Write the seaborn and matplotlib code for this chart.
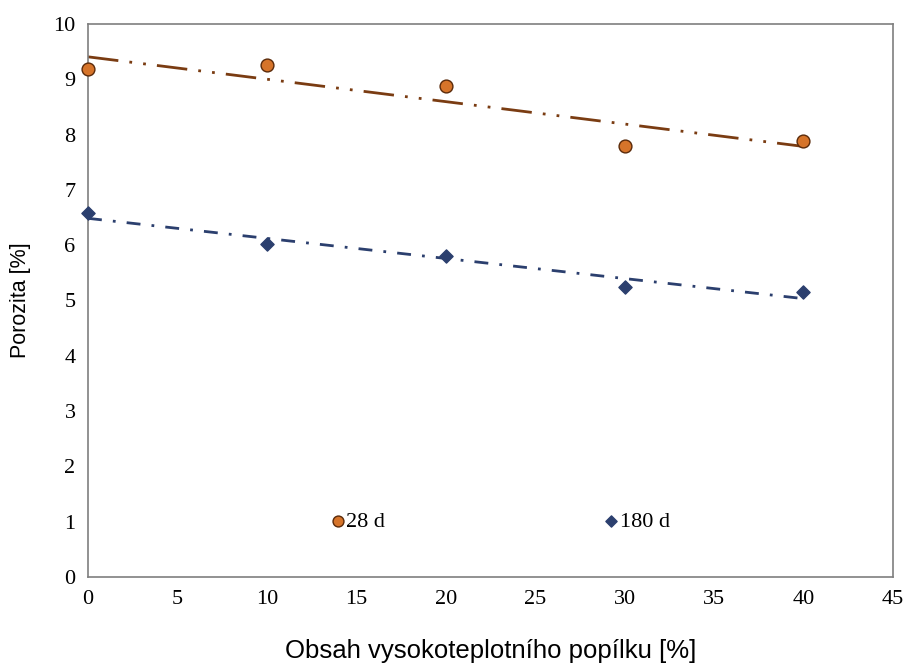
import numpy as np
import pandas as pd
import seaborn as sns
import matplotlib.pyplot as plt

fly_ash = [0, 10, 20, 30, 40]
por_28d = [9.18, 9.25, 8.87, 7.80, 7.88]
por_180d = [6.58, 6.02, 5.80, 5.25, 5.15]
series_names = ["28 d", "180 d"]

df = pd.DataFrame({
    "ash": fly_ash * 2,
    "por": por_28d + por_180d,
    "age": [series_names[0]] * len(fly_ash) + [series_names[1]] * len(fly_ash),
})

sns.set_theme(style="white")
plt.rcParams["font.family"] = ["Liberation Serif", "DejaVu Serif"]
plt.rcParams["text.color"] = "black"

fig = plt.figure(figsize=(9.11, 6.66), dpi=100)
ax = fig.add_axes([0.0966, 0.1336, 0.8834, 0.8304])

# trend lines (linear fit)
line_styles = {
    "28 d": dict(color="#7a3c12", ls=(0, (11, 4, 1, 4, 1, 4))),
    "180 d": dict(color="#2b3f6e", ls=(0, (5, 4, 1, 4))),
}
for name in series_names:
    sub = df[df["age"] == name]
    sns.regplot(data=sub, x="ash", y="por", ax=ax, scatter=False, ci=None,
                line_kws=dict(lw=2.0, linestyle=line_styles[name]["ls"],
                              color=line_styles[name]["color"]))

marker_cfg = {
    "28 d": dict(marker="o", color="#d6742a", edgecolor="#5a2a0a", s=85),
    "180 d": dict(marker="D", color="#2b3f6e", edgecolor="#2b3f6e", s=45),
}
for name in series_names:
    sub = df[df["age"] == name]
    sns.scatterplot(data=sub, x="ash", y="por", ax=ax, label=name,
                    linewidth=1.0, zorder=5, clip_on=False, **marker_cfg[name])

ax.set_xlim(0, 45)
ax.set_ylim(0, 10)
ax.set_xticks(range(0, 46, 5))
ax.set_yticks(range(0, 11))
ax.tick_params(axis="both", length=0, labelsize=16, pad=9, labelcolor="black")

for sp in ax.spines.values():
    sp.set_color("#7f7f7f")
    sp.set_linewidth(1.2)

ax.set_xlabel("Obsah vysokoteplotního popílku [%]", family="Liberation Sans",
              fontsize=18.5, labelpad=22, color="black")
ax.set_ylabel("Porozita [%]", family="Liberation Sans", fontsize=15.5,
              labelpad=16, color="black")

handles, labels = ax.get_legend_handles_labels()
leg = ax.legend(handles, labels, loc="center", bbox_to_anchor=(0.513, 0.0995),
                ncol=2, frameon=False, fontsize=16, handlelength=0.5,
                handletextpad=0.15, columnspacing=9.9, markerscale=0.85)

fig.savefig("out.png", dpi=100)
